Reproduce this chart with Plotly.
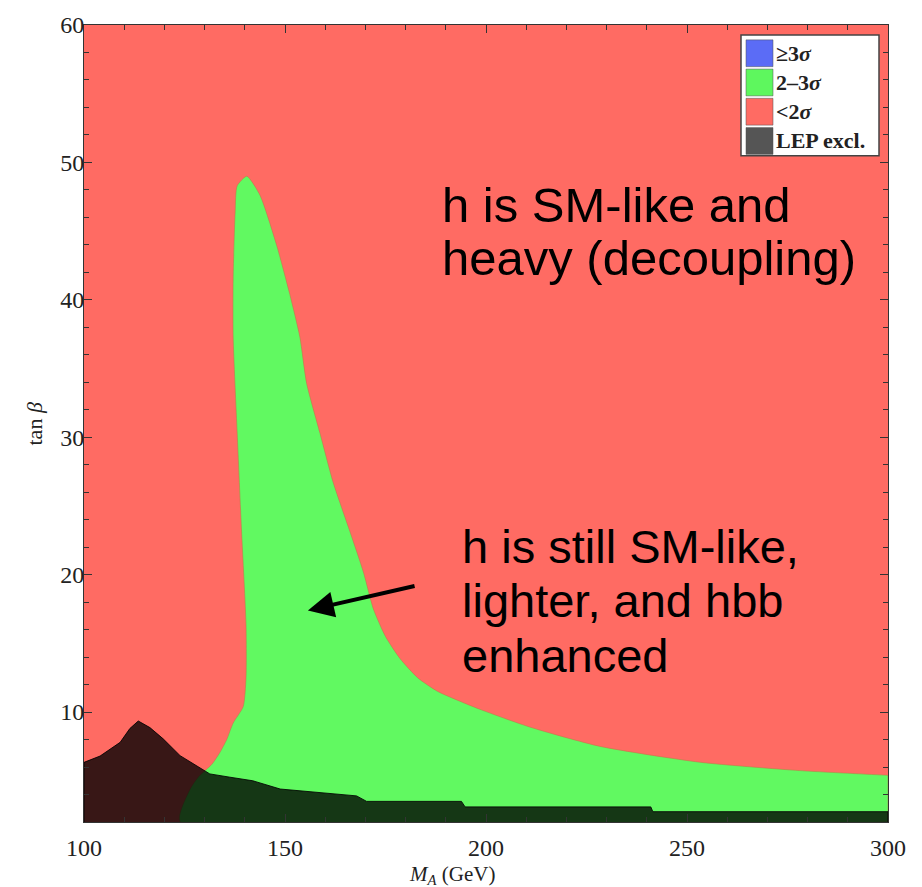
import plotly.graph_objects as go

# ---------------- data ----------------
ma_range = [100, 300]
tanb_range = [2, 60]
x_tick_vals = [100, 150, 200, 250, 300]
y_tick_vals = [10, 20, 30, 40, 50, 60]

# 2-3 sigma (green) region: right/upper boundary from peak to M_A = 300
green_right_ma = [140.5, 143.8, 147.9, 151.2, 153.7, 155.4, 158.7, 162.0, 166.2, 169.5,
                  172.0, 175.0, 178.6, 183.0, 188.0, 198.5, 211.0, 228.4, 253.2, 278.1, 300.0]
green_right_tb = [49.0, 47.6, 44.0, 40.4, 37.3, 33.9, 30.3, 26.7, 23.1, 20.2,
                  17.5, 15.5, 13.9, 12.5, 11.5, 10.2, 8.9, 7.5, 6.35, 5.74, 5.4]
# left boundary from peak down to the bottom of the plot
green_left_ma = [140.5, 138.1, 137.6, 137.1, 137.1, 138.1, 139.2, 140.3, 140.3, 139.6,
                 137.1, 135.5, 133.8, 131.8, 128.5, 126.4, 123.9]
green_left_tb = [49.0, 48.3, 46.4, 41.6, 37.3, 30.3, 23.1, 16.35, 12.5, 10.4,
                 9.2, 8.0, 7.06, 6.2, 5.3, 4.4, 2.0]

# LEP exclusion boundary (upper edge), left to right
lep_ma = [100.0, 100.0, 104.0, 109.0, 111.4, 113.5, 116.4, 119.7, 123.9, 128.0, 131.3,
          136.3, 142.0, 148.8, 157.0, 167.8, 170.3, 193.9, 194.8, 241.0, 241.5, 300.0, 300.0]
lep_tb = [2.0, 6.34, 6.8, 7.8, 8.8, 9.35, 8.87, 8.05, 6.83, 6.1, 5.5,
          5.26, 5.0, 4.4, 4.2, 3.9, 3.5, 3.5, 3.1, 3.1, 2.75, 2.75, 2.0]

legend_labels = ["\u22653<i>\u03c3</i>", "2\u20133<i>\u03c3</i>", "<2<i>\u03c3</i>", "LEP excl."]
legend_colors = ["#5B6CF6", "#5EF75E", "#FF6B63", "#555555"]

annot1_lines = ["h is SM-like and", "heavy (decoupling)"]
annot2_lines = ["h is still SM-like,", "lighter, and hbb", "enhanced"]
arrow_tail = (182.6, 19.2)
arrow_tip = (155.7, 17.4)

# ---------------- styling ----------------
RED = "#FF6B63"
GREEN = "#61F961"
W, H = 922, 887
L, T = 84, 18
R = W - 888
B = H - 822
PW, PH = W - L - R, H - T - B


def px_x(px):
    """reference page pixel -> paper coordinate"""
    return (px - L) / PW


def px_y(py):
    return (H - B - py) / PH


fig = go.Figure()

# green region polygon (left boundary bottom->peak, right boundary peak->300, then bottom)
gx = list(reversed(green_left_ma)) + green_right_ma[1:] + [green_right_ma[-1], ma_range[1],
                                                             ma_range[1], green_left_ma[-1]]
gy = list(reversed(green_left_tb)) + green_right_tb[1:] + [green_right_tb[-1], tanb_range[0],
                                                             tanb_range[0], green_left_tb[-1]]
fig.add_trace(go.Scatter(x=gx, y=gy, fill="toself", fillcolor=GREEN, mode="lines",
                         line=dict(color="rgba(190,120,70,0.55)", width=1,
                                   shape="spline", smoothing=0.6),
                         showlegend=False, hoverinfo="skip"))

# LEP excluded region (dark overlay)
fig.add_trace(go.Scatter(x=lep_ma, y=lep_tb, fill="toself", fillcolor="rgba(0,0,0,0.78)",
                         mode="lines", line=dict(color="rgba(0,0,0,0.85)", width=1),
                         showlegend=False, hoverinfo="skip"))

axis_font = dict(family="Liberation Serif, Times New Roman, serif", size=24, color="#222")
fig.update_xaxes(range=ma_range, tickvals=x_tick_vals, ticks="inside", ticklen=8,
                 tickcolor="#333", showline=True, linecolor="#333", linewidth=1,
                 mirror="allticks", showgrid=False, zeroline=False, tickfont=axis_font,
                 ticklabelstandoff=4, ticklabeloverflow="allow",
                 minor=dict(ticks="inside", dtick=10, tick0=100, ticklen=5, tickcolor="#333",
                            showgrid=False))
fig.update_yaxes(range=tanb_range, tickvals=y_tick_vals, ticks="inside", ticklen=8,
                 tickcolor="#333", showline=True, linecolor="#333", linewidth=1,
                 mirror="allticks", showgrid=False, zeroline=False, tickfont=axis_font,
                 ticklabelstandoff=-6, ticklabeloverflow="allow",
                 minor=dict(ticks="inside", dtick=2, tick0=0, ticklen=5, tickcolor="#333",
                            showgrid=False))

annotations = []
shapes = []

# axis titles
annotations.append(dict(xref="paper", yref="paper", x=px_x(452), y=px_y(860),
                        xanchor="center", yanchor="top", showarrow=False,
                        text="<i>M</i><sub><i>A</i></sub> (GeV)",
                        font=dict(family="Liberation Serif, serif", size=21, color="#222")))
annotations.append(dict(xref="paper", yref="paper", x=px_x(34), y=px_y(421),
                        xanchor="center", yanchor="middle", showarrow=False, textangle=-90,
                        text="tan <i>\u03b2</i>",
                        font=dict(family="Liberation Serif, serif", size=22, color="#222")))

# big explanatory texts
sans1 = dict(family="Liberation Sans, Arial, sans-serif", size=49, color="black")
sans2 = dict(family="Liberation Sans, Arial, sans-serif", size=47, color="black")
for i, line in enumerate(annot1_lines):
    annotations.append(dict(xref="paper", yref="paper", x=px_x(440), y=px_y(200 + 53 * i),
                            xanchor="left", yanchor="middle", showarrow=False, text=line,
                            font=sans1))
for i, line in enumerate(annot2_lines):
    annotations.append(dict(xref="paper", yref="paper", x=px_x(460), y=px_y(544 + 55 * i),
                            xanchor="left", yanchor="middle", showarrow=False, text=line,
                            font=sans2))

# arrow
annotations.append(dict(x=arrow_tip[0], y=arrow_tip[1], ax=arrow_tail[0], ay=arrow_tail[1],
                        xref="x", yref="y", axref="x", ayref="y", text="", showarrow=True,
                        arrowhead=2, arrowsize=1.3, arrowwidth=4, arrowcolor="black"))

# legend box (manual)
box_x0, box_x1, box_y0, box_y1 = 741, 879, 28, 150
shapes.append(dict(type="rect", xref="paper", yref="paper",
                   x0=px_x(box_x0), x1=px_x(box_x1), y0=px_y(box_y1), y1=px_y(box_y0),
                   fillcolor="white", line=dict(color="#444", width=1.5), layer="above"))
for i, (lab, col) in enumerate(zip(legend_labels, legend_colors)):
    top = 33 + 29.5 * i
    shapes.append(dict(type="rect", xref="paper", yref="paper",
                       x0=px_x(746), x1=px_x(773), y0=px_y(top + 27), y1=px_y(top),
                       fillcolor=col, line=dict(color="rgba(80,80,80,0.5)", width=1),
                       layer="above"))
    annotations.append(dict(xref="paper", yref="paper", x=px_x(774), y=px_y(top + 13.5),
                            xanchor="left", yanchor="middle", showarrow=False,
                            text="<b>" + lab + "</b>",
                            font=dict(family="Liberation Serif, serif", size=22, color="#222")))

fig.update_layout(width=W, height=H, margin=dict(l=L, r=R, t=T, b=B),
                  paper_bgcolor="white", plot_bgcolor=RED, showlegend=False,
                  annotations=annotations, shapes=shapes)

fig.write_html("out.html", config={"displayModeBar": False},
               post_script="document.body.style.margin='0';document.body.style.overflow='hidden';")
